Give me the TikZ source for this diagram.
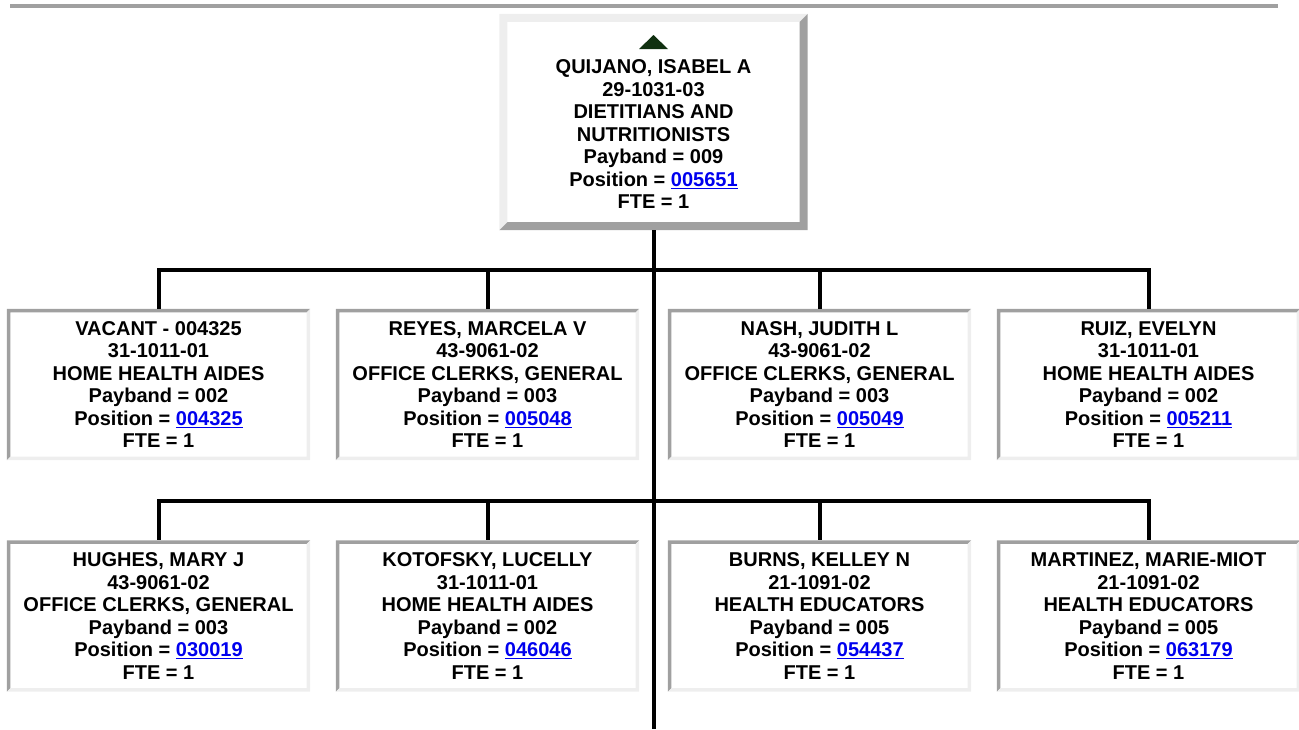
\documentclass[tikz,border=0pt]{standalone}
\usepackage{fontspec}
\setmainfont{Liberation Sans}
\usepackage{xcolor}

\definecolor{edgedark}{HTML}{A0A0A0}
\definecolor{edgelight}{HTML}{EEEEEE}
\definecolor{linkblue}{HTML}{0000EE}
\definecolor{uparrow}{HTML}{103010}

\newcommand{\poslink}[1]{\textcolor{linkblue}{\underline{#1}}}
% bevelled border round a node: node, top-left colour, bottom-right colour, width
\newcommand{\bevel}[4]{%
  \fill[#2] (#1.south west) -- (#1.north west) -- (#1.north east)
    -- ([shift={(-#4,#4)}]#1.north east) -- ([shift={(#4,#4)}]#1.north west)
    -- ([shift={(#4,-#4)}]#1.south west) -- cycle;
  \fill[#3] (#1.south west) -- (#1.south east) -- (#1.north east)
    -- ([shift={(-#4,#4)}]#1.north east) -- ([shift={(-#4,-#4)}]#1.south east)
    -- ([shift={(#4,-#4)}]#1.south west) -- cycle;
}

\begin{document}
\begin{tikzpicture}[x=1pt, y=-1pt,
  card/.style={minimum width=303pt, minimum height=151pt, inner sep=0pt,
    align=center, font=\fontsize{20}{22.5}\selectfont\bfseries},
  conn/.style={line width=4pt}]
  \useasboundingbox (0,0) rectangle (1299,729);
  \draw[line width=4pt, edgedark] (10,6) -- (1278,6);

  % supervisor
  \node[card, minimum width=308pt, minimum height=216pt] (quijano) at (653.5,122)
    {\strut\\QUIJANO, ISABEL A\\29-1031-03\\DIETITIANS AND\\NUTRITIONISTS\\Payband = 009\\Position = \poslink{005651}\\FTE = 1};
  \fill[uparrow] (639,49) -- (668,49) -- (653.5,35) -- cycle;

  % first row
  \node[card] (vacant) at (158.5,384.5)
    {VACANT - 004325\\31-1011-01\\HOME HEALTH AIDES\\Payband = 002\\Position = \poslink{004325}\\FTE = 1};
  \node[card] (reyes) at (487.5,384.5)
    {REYES, MARCELA V\\43-9061-02\\OFFICE CLERKS, GENERAL\\Payband = 003\\Position = \poslink{005048}\\FTE = 1};
  \node[card] (nash) at (819.5,384.5)
    {NASH, JUDITH L\\43-9061-02\\OFFICE CLERKS, GENERAL\\Payband = 003\\Position = \poslink{005049}\\FTE = 1};
  \node[card] (ruiz) at (1148.5,384.5)
    {RUIZ, EVELYN\\31-1011-01\\HOME HEALTH AIDES\\Payband = 002\\Position = \poslink{005211}\\FTE = 1};

  % second row
  \node[card] (hughes) at (158.5,616)
    {HUGHES, MARY J\\43-9061-02\\OFFICE CLERKS, GENERAL\\Payband = 003\\Position = \poslink{030019}\\FTE = 1};
  \node[card] (kotofsky) at (487.5,616)
    {KOTOFSKY, LUCELLY\\31-1011-01\\HOME HEALTH AIDES\\Payband = 002\\Position = \poslink{046046}\\FTE = 1};
  \node[card] (burns) at (819.5,616)
    {BURNS, KELLEY N\\21-1091-02\\HEALTH EDUCATORS\\Payband = 005\\Position = \poslink{054437}\\FTE = 1};
  \node[card] (martinez) at (1148.5,616)
    {MARTINEZ, MARIE-MIOT\\21-1091-02\\HEALTH EDUCATORS\\Payband = 005\\Position = \poslink{063179}\\FTE = 1};

  % borders
  \bevel{quijano}{edgelight}{edgedark}{8}
  \foreach \n in {vacant,reyes,nash,ruiz,hughes,kotofsky,burns,martinez}
    {\bevel{\n}{edgedark}{edgelight}{3.5}}

  % connectors
  \coordinate (bus1) at (653.5,270);
  \coordinate (bus2) at (653.5,501);
  \coordinate (trunkend) at (653.5,729);
  \draw[conn] (quijano.south) -- (trunkend);
  \foreach \n in {vacant,reyes,nash,ruiz}
    \draw[conn] (bus1) -| (\n.north);
  \foreach \n in {hughes,kotofsky,burns,martinez}
    \draw[conn] (bus2) -| (\n.north);
\end{tikzpicture}
\end{document}
